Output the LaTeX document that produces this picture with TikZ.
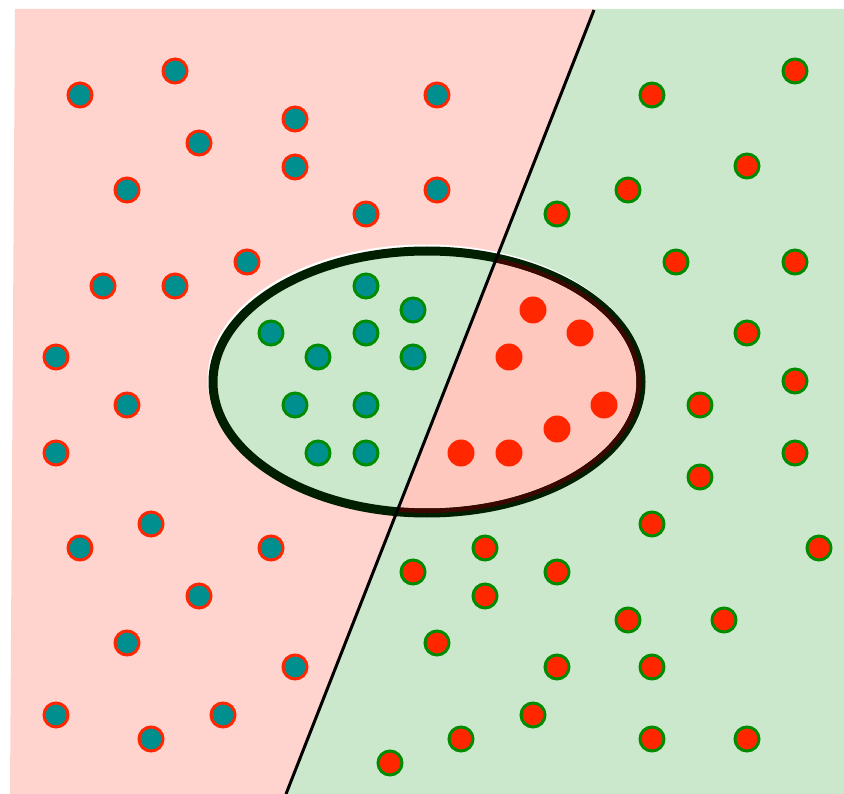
\documentclass[tikz,border=0pt]{standalone}
\begin{document}
\begin{tikzpicture}[x=1pt,y=-1pt]
\definecolor{bgpink}{RGB}{255,212,206}
\definecolor{bggreen}{RGB}{204,232,204}
\definecolor{inpink}{RGB}{255,200,190}
\definecolor{teal1}{RGB}{0,143,143}
\definecolor{red1}{RGB}{255,38,0}
\definecolor{green1}{RGB}{0,140,0}
\definecolor{darkred}{RGB}{58,8,0}
\definecolor{darkgreen}{RGB}{0,30,0}
\tikzset{
  tdot/.style={circle,minimum size=24pt,inner sep=0pt,fill=teal1,draw=red1,line width=3pt},
  gdot/.style={circle,minimum size=24pt,inner sep=0pt,fill=red1,draw=green1,line width=3pt},
  igdot/.style={circle,minimum size=24pt,inner sep=0pt,fill=teal1,draw=green1,line width=3pt},
  irdot/.style={circle,minimum size=27pt,inner sep=0pt,fill=red1},
}
\useasboundingbox (0,0) rectangle (844,794);
% backgrounds
\fill[bgpink] (15,9) -- (594,9) -- (286,794) -- (10,794) -- cycle;
\fill[bggreen] (594,9) -- (844,9) -- (844,794) -- (286,794) -- cycle;
% halo
\draw[white,line width=8pt] (425.5,379.5) ellipse [x radius=214, y radius=131];
% ellipse interior
\begin{scope}
  \clip (427,382) ellipse [x radius=214, y radius=131];
  \fill[bggreen] (150,200) rectangle (700,560);
  \fill[inpink] (594,9) -- (844,9) -- (844,794) -- (286,794) -- cycle;
\end{scope}
% ellipse border
\draw[darkgreen,line width=9pt] (427,382) ellipse [x radius=214, y radius=131];
\begin{scope}
  \clip (427,382) ellipse [x radius=214, y radius=131];
  \clip (594,9) -- (844,9) -- (844,794) -- (286,794) -- cycle;
  \draw[darkred,line width=9pt] (427,382) ellipse [x radius=214, y radius=131];
\end{scope}
% separating line
\coordinate (ltop) at (594,10);
\coordinate (lbot) at (286,794);
\draw[black,line width=3pt] (ltop) -- (lbot);
% outside left dots
\foreach \x/\y [count=\i] in {80/95,175/71,199/143,295/119,295/167,437/95,127/190,366/214,437/190,247/262,103/286,175/286,56/357,127/405,56/453,151/524,80/548,271/548,199/596,127/643,295/667,56/715,151/739,223/715}
  \node[tdot] (t\i) at (\x,\y) {};
% outside right dots
\foreach \x/\y [count=\i] in {795/71,652/95,747/166,628/190,557/214,676/262,795/262,747/333,795/381,700/405,795/453,700/477,652/524,819/548,485/548,413/572,557/572,485/596,628/620,724/620,437/643,557/667,652/667,533/715,461/739,652/739,747/739,390/763}
  \node[gdot] (g\i) at (\x,\y) {};
% inside teal dots
\foreach \x/\y [count=\i] in {366/286,413/310,271/333,366/333,318/357,413/357,295/405,366/405,318/453,366/453}
  \node[igdot] (it\i) at (\x,\y) {};
% inside red dots
\foreach \x/\y [count=\i] in {533/310,580/333,509/357,604/405,557/429,461/453,509/453}
  \node[irdot] (ir\i) at (\x,\y) {};
\end{tikzpicture}
\end{document}
